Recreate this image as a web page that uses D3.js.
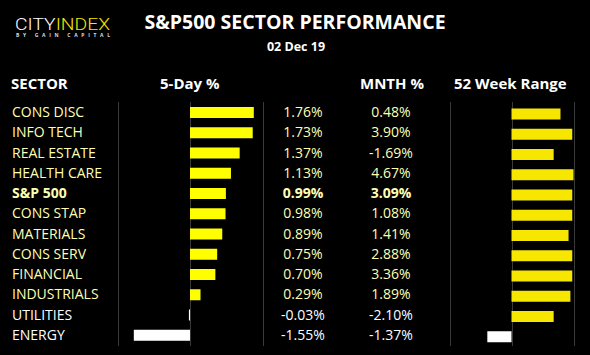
<!DOCTYPE html>
<html><head><meta charset="utf-8">
<script src="https://cdn.jsdelivr.net/npm/d3@7"></script>
<style>html,body{margin:0;padding:0;background:#000;}svg{display:block;}</style>
</head><body>
<script>
const sectors = ["CONS DISC","INFO TECH","REAL ESTATE","HEALTH CARE","S&P 500","CONS STAP","MATERIALS","CONS SERV","FINANCIAL","INDUSTRIALS","UTILITIES","ENERGY"];
const fiveDay = [1.76,1.73,1.37,1.13,0.99,0.98,0.89,0.75,0.70,0.29,-0.03,-1.55];
const month = [0.48,3.90,-1.69,4.67,3.09,1.08,1.41,2.88,3.36,1.89,-2.10,-1.37];
const range52 = [79,98,68,100,98,98,92,98,98,95,68,-39];
const headers = ["SECTOR","5-Day %","MNTH %","52 Week Range"];
const title = "S&P500 SECTOR PERFORMANCE";
const dateLabel = "02 Dec 19";
const boldRow = "S&P 500";

const W=590,H=355;
const svg=d3.select("body").append("svg").attr("width",W).attr("height",H).style("background","#000");
const font="'Open Sans', sans-serif";

const y=d3.scaleBand().domain(sectors).range([102,345]);
const x5=d3.scaleLinear().domain([-2,2]).range([117.5,262.5]);
const x52=d3.scaleLinear().domain([-100,100]).range([449.5,573.5]);

// gridlines
const grid=svg.append("g");
[[x5,[-2,0,2]],[x52,[-100,0,100]]].forEach(([sc,ticks])=>{
  grid.selectAll(null).data(ticks).enter().append("line")
    .attr("x1",d=>Math.round(sc(d))+0.5).attr("x2",d=>Math.round(sc(d))+0.5)
    .attr("y1",102).attr("y2",346).attr("stroke","#3a3a3a").attr("stroke-width",1);
});

// logo
const logo=svg.append("text").attr("x",15).attr("y",29.5).attr("font-family","Roboto, sans-serif")
  .attr("font-weight",300).attr("font-size",16.5).attr("textLength",95).attr("lengthAdjust","spacingAndGlyphs");
logo.append("tspan").attr("fill","#ffffff").text("CITY");
logo.append("tspan").attr("fill","#f5e600").text("INDEX");
svg.append("text").attr("x",16).attr("y",37).attr("font-family",font).attr("font-weight",700)
  .attr("font-size",5).attr("fill","#dddddd").attr("textLength",94).attr("lengthAdjust","spacing").text("BY GAIN CAPITAL");

// title
svg.append("text").attr("x",295).attr("y",29).attr("text-anchor","middle").attr("font-family",font)
  .attr("font-weight",700).attr("font-size",19.5).attr("fill","#fff").text(title);
svg.append("text").attr("x",296).attr("y",51).attr("text-anchor","middle").attr("font-family",font)
  .attr("font-weight",700).attr("font-size",12.5).attr("fill","#fff").text(dateLabel);

// headers
const hx=[11,160,360,454];
svg.selectAll(".hdr").data(headers).enter().append("text").attr("class","hdr")
  .attr("x",(d,i)=>hx[i]).attr("y",89).attr("font-family",font).attr("font-weight",700)
  .attr("font-size",15).attr("fill","#fff").text(d=>d);

const rowColor=i=>fiveDay[i]<0?"#ffffff":"#ffffb3";
const weight=d=>d===boldRow?700:400;
const base=d=>y(d)+y.bandwidth()/2+5;

// labels
svg.selectAll(".lbl").data(sectors).enter().append("text")
  .attr("x",12).attr("y",d=>base(d)).attr("font-family",font).attr("font-size",14)
  .attr("font-weight",weight).attr("fill",(d,i)=>rowColor(i)).text(d=>d);

// 5-day bars
svg.selectAll(".b5").data(fiveDay).enter().append("rect")
  .attr("x",d=>Math.min(x5(0),x5(d))).attr("width",d=>Math.abs(x5(d)-x5(0)))
  .attr("y",(d,i)=>y(sectors[i])+5).attr("height",11)
  .attr("fill",d=>d<0?"#ffffff":"#ffff00");

// 52-week bars
svg.selectAll(".b52").data(range52).enter().append("rect")
  .attr("x",d=>Math.min(x52(0),x52(d))).attr("width",d=>Math.abs(x52(d)-x52(0)))
  .attr("y",(d,i)=>y(sectors[i])+6.5).attr("height",11)
  .attr("fill",d=>d<0?"#ffffff":"#f7e700");

// values
const fmt=v=>v.toFixed(2)+"%";
svg.selectAll(".v5").data(fiveDay).enter().append("text")
  .attr("x",303).attr("y",(d,i)=>base(sectors[i])).attr("text-anchor","middle")
  .attr("font-family",font).attr("font-size",14).attr("font-weight",(d,i)=>weight(sectors[i]))
  .attr("fill",(d,i)=>rowColor(i)).text(fmt);
svg.selectAll(".vm").data(month).enter().append("text")
  .attr("x",391).attr("y",(d,i)=>base(sectors[i])).attr("text-anchor","middle")
  .attr("font-family",font).attr("font-size",14).attr("font-weight",(d,i)=>weight(sectors[i]))
  .attr("fill",(d,i)=>rowColor(i)).text(fmt);
</script>
</body></html>
